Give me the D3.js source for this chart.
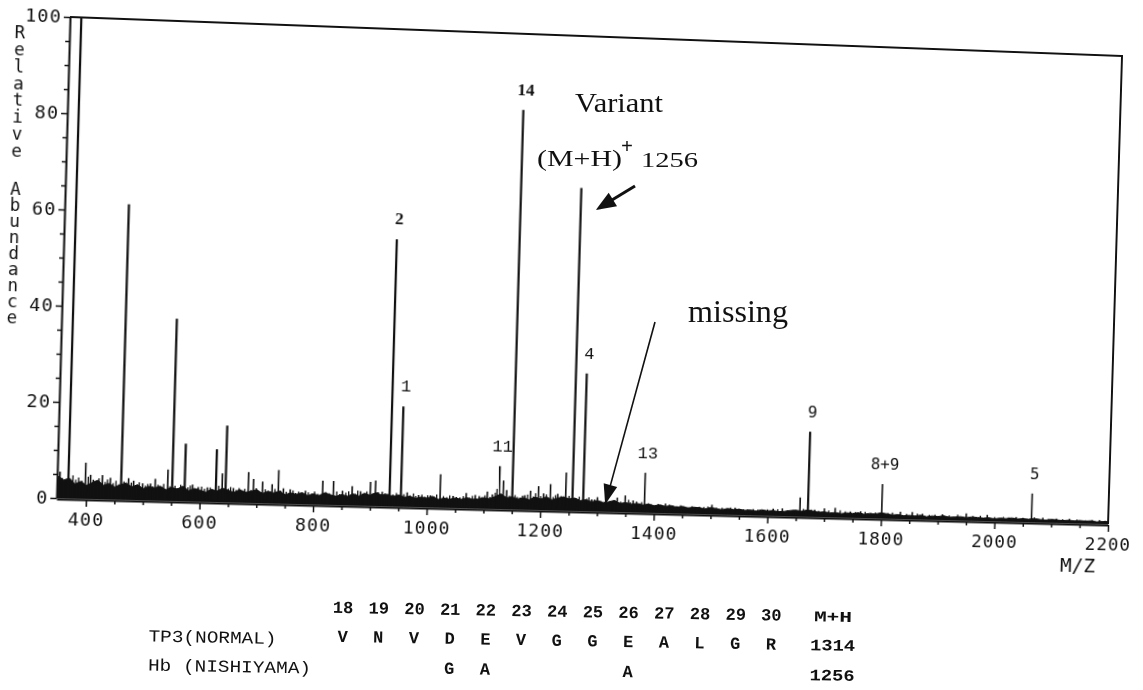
<!DOCTYPE html>
<html>
<head>
<meta charset="utf-8">
<script src="https://cdn.jsdelivr.net/npm/d3@7"></script>
<style>
  html, body { margin: 0; padding: 0; background: #fff; }
  #wrap { position: relative; width: 1143px; height: 690px; overflow: hidden; background: #fff; }
  #spec { position: absolute; left: 0; top: 0; transform-origin: 0 0; }
  #notes { position: absolute; left: 0; top: 0; }
</style>
</head>
<body>
<div id="wrap">
  <svg id="spec" width="1300" height="620"></svg>
  <svg id="notes" width="1143" height="690"></svg>
</div>
<script>
// ---- spectrum data: main stick peaks (m/z, relative abundance %) ----
const peakMz = [
  353, 368, 398, 407, 412, 428, 442, 461, 474, 483, 499, 513, 521, 543, 551, 573,
  587, 597, 613, 628, 639, 645, 659, 685, 694, 710, 727, 738, 747, 759, 786, 816,
  835, 851, 868, 883, 900, 909, 921, 934, 954, 965, 985, 1006, 1023, 1046, 1058, 1069,
  1085, 1092, 1106, 1115, 1127, 1134, 1140, 1150, 1164, 1172, 1182, 1196, 1205, 1217, 1230, 1244,
  1256, 1275, 1290, 1300, 1335, 1349, 1363, 1383, 1400, 1420, 1440, 1460, 1480, 1502, 1520, 1543,
  1565, 1592, 1610, 1626, 1645, 1657, 1671, 1683, 1700, 1719, 1746, 1764, 1790, 1801, 1834, 1855,
  1873, 1908, 1950, 1987, 2038, 2065, 2085, 2109, 2132, 2185
];
const peakIntensity = [
  5.5, 100, 7.5, 5, 4, 5, 4.5, 61.5, 4.5, 4, 3.5, 3.5, 4.5, 6.5, 38, 12,
  3.5, 3, 3, 11, 6, 16, 3, 6.4, 5, 4.5, 4, 7, 3.2, 3, 2.8, 5,
  5, 3, 4, 3, 5, 5.3, 3, 56, 21, 3, 2.5, 2.5, 7, 2.5, 2.2, 3.2,
  2.8, 2.6, 3.6, 3, 9, 6, 4, 84, 2.5, 3, 4, 5, 3.5, 5.5, 3.5, 8,
  68, 29, 2.5, 3, 3, 3.5, 2.5, 8.4, 1.5, 2, 1.5, 1.3, 1.5, 2, 1.4, 1.5,
  1.2, 1.2, 1.5, 1.6, 1.3, 4, 18, 1.5, 1.8, 2, 1.3, 1.4, 1.2, 7.3, 1.5, 1.5,
  1.2, 1.2, 1.5, 1.3, 1, 6.1, 1, 0.9, 0.9, 0.8
];

// low-level "grass" sticks riding on the baseline
const grassMz = [
  357, 362, 376, 381, 386, 392, 403, 417, 422, 433, 437, 447, 452, 457, 466, 470,
  479, 488, 493, 504, 508, 517, 526, 531, 536, 547, 556, 561, 566, 579, 583, 592,
  603, 608, 618, 622, 633, 650, 654, 664, 669, 674, 679, 690, 699, 704, 715, 720,
  732, 742, 752, 764, 769, 774, 780, 791, 797, 802, 808, 822, 828, 841, 846, 857,
  862, 874, 878, 888, 894, 904, 914, 926, 940, 946, 959, 970, 976, 980, 991, 996,
  1001, 1012, 1017, 1029, 1035, 1040, 1052, 1064, 1075, 1080, 1097, 1102, 1111, 1120, 1123, 1145,
  1155, 1159, 1168, 1177, 1187, 1191, 1200, 1210, 1222, 1226, 1236, 1240, 1250, 1262, 1268, 1281,
  1285, 1295, 1306, 1326, 1330, 1341, 1355, 1358, 1369, 1374, 1378, 1390, 1395, 1407, 1413, 1427,
  1433, 1447, 1453, 1467, 1473, 1488, 1495, 1510, 1528, 1535, 1550, 1558, 1575, 1583, 1600, 1618,
  1635, 1663, 1677, 1690, 1708, 1728, 1737, 1755, 1772, 1782, 1812, 1820, 1845, 1864, 1885, 1895,
  1920, 1935, 1962, 1975, 2000, 2015, 2025, 2050, 2070, 2095, 2120, 2145, 2160, 2172, 2195
];
const grassIntensity = [
  4.2, 3.6, 4.8, 3.9, 4.4, 3.7, 4.6, 3.8, 4.3, 3.6, 4.1, 3.4, 3.9, 3.2, 3.8, 3.3,
  3.6, 3.1, 3.7, 3.0, 3.4, 2.9, 3.3, 2.8, 3.5, 3.0, 3.2, 2.7, 3.4, 2.9, 3.3, 2.6,
  3.1, 2.7, 3.0, 2.6, 3.4, 2.8, 3.2, 2.6, 3.0, 2.5, 2.9, 2.7, 3.1, 2.5, 2.9, 2.6,
  3.0, 2.7, 2.5, 2.8, 2.3, 2.6, 2.2, 2.5, 2.3, 2.7, 2.2, 2.6, 2.4, 2.8, 2.3, 2.6,
  2.9, 2.4, 3.1, 2.5, 3.0, 2.6, 2.9, 2.7, 2.5, 2.8, 2.6, 2.4, 2.8, 2.3, 2.6, 2.2,
  2.5, 2.3, 2.7, 2.4, 2.2, 2.6, 2.3, 2.5, 2.2, 2.6, 2.4, 2.8, 2.5, 3.4, 4.2, 2.8,
  3.0, 2.6, 2.9, 3.2, 2.8, 3.5, 2.9, 3.3, 2.8, 3.2, 3.0, 2.7, 3.1, 2.7, 3.0, 2.6,
  2.9, 2.5, 2.2, 2.0, 2.4, 2.2, 2.6, 2.1, 2.3, 1.9, 2.2, 2.0, 1.8, 1.9, 1.7, 1.8,
  1.6, 1.7, 1.5, 1.6, 1.4, 1.5, 1.6, 1.4, 1.3, 1.5, 1.3, 1.2, 1.3, 1.2, 1.3, 1.4,
  1.2, 1.6, 1.5, 1.3, 1.4, 1.5, 1.3, 1.2, 1.3, 1.1, 1.2, 1.3, 1.1, 1.2, 1.0, 1.1,
  1.0, 1.2, 1.0, 1.1, 0.9, 1.0, 0.9, 0.9, 1.0, 0.8, 0.8, 0.8, 0.7, 0.8, 0.7
];

// baseline noise level sampled every 10 m/z from 350 to 2200
const noiseStartMz = 350;
const noiseStepMz = 10;
const noiseFloor = [
  4.5, 3.8, 4.2, 3.0, 3.6, 2.8, 3.4, 3.9, 2.9, 3.3,
  2.6, 3.1, 3.5, 2.7, 3.2, 2.4, 2.9, 2.6, 3.0, 2.3,
  2.8, 2.5, 3.1, 2.2, 2.7, 2.4, 2.0, 2.6, 2.3, 2.9,
  2.5, 2.1, 2.7, 2.2, 2.4, 2.8, 2.0, 2.5, 2.2, 2.6,
  1.9, 2.3, 2.0, 2.4, 1.8, 2.2, 1.9, 2.5, 2.1, 1.8,
  2.2, 1.9, 2.4, 2.0, 2.6, 2.2, 2.8, 2.3, 2.5, 2.1,
  2.4, 2.0, 2.2, 1.8, 2.1, 1.9, 2.3, 1.7, 2.0, 1.8,
  2.1, 1.8, 2.2, 1.9, 2.0, 2.3, 2.1, 2.6, 3.2, 2.4,
  2.6, 2.2, 2.5, 2.1, 2.7, 2.3, 2.8, 2.2, 2.6, 2.9,
  2.5, 2.7, 2.2, 2.4, 2.0, 2.3, 1.9, 2.1, 2.4, 1.8,
  2.0, 1.7, 1.9, 1.6, 1.8, 1.5, 1.7, 1.4, 1.6, 1.3,
  1.5, 1.2, 1.4, 1.3, 1.1, 1.4, 1.2, 1.0, 1.3, 1.1,
  1.2, 1.0, 1.1, 0.9, 1.2, 1.0, 1.1, 0.9, 1.0, 1.2,
  1.3, 1.1, 1.4, 1.2, 1.0, 1.1, 0.9, 1.0, 0.8, 1.0,
  0.9, 1.1, 0.8, 1.0, 0.9, 1.2, 1.0, 0.8, 0.9, 0.7,
  0.8, 0.7, 0.9, 0.6, 0.8, 0.7, 0.9, 0.6, 0.7, 0.8,
  0.6, 0.8, 0.7, 0.6, 0.7, 0.5, 0.7, 0.6, 0.8, 0.6,
  0.7, 0.6, 0.8, 0.6, 0.5, 0.7, 0.6, 0.5, 0.6, 0.5,
  0.6, 0.5, 0.6, 0.4, 0.5, 0.5
];

// axis ticks
const xDomain = [348, 2200];
const xTicks = [400, 600, 800, 1000, 1200, 1400, 1600, 1800, 2000, 2200];
const xMinorTicks = [450, 500, 550, 650, 700, 750, 850, 900, 950, 1050, 1100, 1150, 1250, 1300, 1350,
  1450, 1500, 1550, 1650, 1700, 1750, 1850, 1900, 1950, 2050, 2100, 2150];
const yTicks = [0, 20, 40, 60, 80, 100];
const yMinorTicks = [5, 10, 15, 25, 30, 35, 45, 50, 55, 65, 70, 75, 85, 90, 95];
const yTitleWords = ["Relative", "Abundance"];
const xTitle = "M/Z";

// fragment numbers printed over peaks
const labelText = ["2", "1", "11", "14", "4", "13", "9", "8+9", "5"];
const labelMz = [934, 954, 1127, 1150, 1275, 1383, 1671, 1801, 2065];

// sequence table
const residueNo = [18, 19, 20, 21, 22, 23, 24, 25, 26, 27, 28, 29, 30];
const normalSeq = ["V", "N", "V", "D", "E", "V", "G", "G", "E", "A", "L", "G", "R"];
const variantSeq = ["", "", "", "G", "A", "", "", "", "A", "", "", "", ""];
const rowNames = ["TP3(NORMAL)", "Hb (NISHIYAMA)"];
const massHeader = "M+H";
const massNormal = 1314;
const massVariant = 1256;

// ---- layout of the plotter sheet ----
const ml = 75, mt = 20, W = 1050, H = 480;
// plot frame corners on the page: top-left, top-right, bottom-right, bottom-left
const frameCorners = [[70, 17], [1122, 56], [1108, 524], [56.5, 498]];

// projective map from the flat drawing onto the tilted sheet
function quadMatrix(P) {
  const [p0, p1, p2, p3] = P;
  const sx = p0[0] - p1[0] + p2[0] - p3[0], sy = p0[1] - p1[1] + p2[1] - p3[1];
  const dx1 = p1[0] - p2[0], dx2 = p3[0] - p2[0], dy1 = p1[1] - p2[1], dy2 = p3[1] - p2[1];
  const den = dx1 * dy2 - dx2 * dy1;
  const g = (sx * dy2 - dx2 * sy) / den, h = (dx1 * sy - sx * dy1) / den;
  const a = p1[0] - p0[0] + g * p1[0], b = p3[0] - p0[0] + h * p3[0], c = p0[0];
  const d = p1[1] - p0[1] + g * p1[1], e = p3[1] - p0[1] + h * p3[1], f = p0[1];
  return [
    [a / W, b / H, c - a * ml / W - b * mt / H],
    [d / W, e / H, f - d * ml / W - e * mt / H],
    [g / W, h / H, 1 - g * ml / W - h * mt / H]
  ];
}
const M = quadMatrix(frameCorners);
function project(px, py) {
  const w = M[2][0] * px + M[2][1] * py + M[2][2];
  return [(M[0][0] * px + M[0][1] * py + M[0][2]) / w, (M[1][0] * px + M[1][1] * py + M[1][2]) / w];
}
d3.select("#spec").style("transform",
  `matrix3d(${M[0][0]},${M[1][0]},0,${M[2][0]},${M[0][1]},${M[1][1]},0,${M[2][1]},0,0,1,0,${M[0][2]},${M[1][2]},0,${M[2][2]})`);

// the m/z axis is evenly divided along the printed baseline; find the flat x for each m/z
function flatXFor(m) {
  const t = (m - xDomain[0]) / (xDomain[1] - xDomain[0]);
  const X = frameCorners[3][0] + (frameCorners[2][0] - frameCorners[3][0]) * t;
  const py = mt + H;
  const k0 = M[0][1] * py + M[0][2], k2 = M[2][1] * py + M[2][2];
  return (X * k2 - k0) / (M[0][0] - X * M[2][0]);
}
const xBreaks = d3.range(xDomain[0], xDomain[1], 20).concat([xDomain[1]]);

const ink = "#111";
const x = d3.scaleLinear().domain(xBreaks).range(xBreaks.map(flatXFor));
const y = d3.scaleLinear().domain([0, 100]).range([mt + H, mt]);

const svg = d3.select("#spec");

// baseline noise band
const noise = noiseFloor.map((v, i) => ({ mz: noiseStartMz + i * noiseStepMz, v }));
svg.append("path")
  .datum(noise)
  .attr("d", d3.area().x(d => x(d.mz)).y0(y(0)).y1(d => y(d.v)))
  .attr("fill", ink).attr("stroke", ink).attr("stroke-width", 1).attr("stroke-linejoin", "miter");

// grass sticks
const grass = grassMz.map((mz, i) => ({ mz, v: grassIntensity[i] }));
svg.append("g").selectAll("line").data(grass).join("line")
  .attr("x1", d => x(d.mz)).attr("x2", d => x(d.mz))
  .attr("y1", y(0)).attr("y2", d => y(d.v))
  .attr("stroke", ink).attr("stroke-width", 1.3);

// stick peaks
const peaks = peakMz.map((mz, i) => ({ mz, v: peakIntensity[i] }));
svg.append("g").selectAll("line").data(peaks).join("line")
  .attr("x1", d => x(d.mz)).attr("x2", d => x(d.mz))
  .attr("y1", y(0)).attr("y2", d => y(d.v))
  .attr("stroke", ink)
  .attr("stroke-width", d => d.v > 10 ? 2.2 : 1.6);

// frame: top and right edges
svg.append("path")
  .attr("d", `M${x(xDomain[0])},${y(100)}H${x(xDomain[1])}V${y(0)}`)
  .attr("fill", "none").attr("stroke", ink).attr("stroke-width", 2);

const tickFont = "'DejaVu Sans Mono', monospace";

// y axis
svg.append("g").attr("transform", `translate(${ml},0)`)
  .call(d3.axisLeft(y).tickValues(yTicks).tickSize(6).tickPadding(2).tickSizeOuter(0).tickFormat(d3.format("d")));
svg.append("g").attr("transform", `translate(${ml},0)`)
  .call(d3.axisLeft(y).tickValues(yMinorTicks).tickSize(4).tickSizeOuter(0).tickFormat(""))
  .call(g => g.select(".domain").remove());

// x axis
svg.append("g").attr("transform", `translate(0,${mt + H + 1})`)
  .call(d3.axisBottom(x).tickValues(xTicks).tickSize(7).tickPadding(6).tickSizeOuter(0).tickFormat(d3.format("d")));
svg.append("g").attr("transform", `translate(0,${mt + H + 1})`)
  .call(d3.axisBottom(x).tickValues(xMinorTicks).tickSize(4).tickSizeOuter(0).tickFormat(""))
  .call(g => g.select(".domain").remove());

svg.selectAll(".domain").attr("stroke", ink).attr("stroke-width", 2);
svg.selectAll(".tick line").attr("stroke", ink).attr("stroke-width", 1.5);
svg.selectAll(".tick text")
  .attr("fill", ink)
  .style("font-family", tickFont)
  .style("font-size", "18px")
  .style("letter-spacing", "1px");

// x title
svg.append("text")
  .attr("x", ml + W - 30).attr("y", mt + H + 50)
  .attr("text-anchor", "middle")
  .attr("fill", ink)
  .style("font-family", tickFont).style("font-size", "20px")
  .text(xTitle);

// y title: letters stacked upright
const titleG = svg.append("g").attr("fill", ink)
  .style("font-family", tickFont).style("font-size", "17px");
[...yTitleWords[0]].forEach((ch, i) => {
  titleG.append("text").attr("x", ml - 48).attr("y", mt + 17 + i * 16.9)
    .attr("text-anchor", "middle").attr("dominant-baseline", "central").text(ch);
});
[...yTitleWords[1]].forEach((ch, i) => {
  titleG.append("text").attr("x", ml - 48).attr("y", mt + 173 + i * 16)
    .attr("text-anchor", "middle").attr("dominant-baseline", "central").text(ch);
});

// fragment numbers above peaks
function labelStyle(t) {
  if (t === "14" || t === "2") return { fam: "'Liberation Serif', serif", size: 17, weight: "bold" };
  if (t === "9" || t === "8+9" || t === "5") return { fam: "'DejaVu Sans Mono', monospace", size: 16, weight: "normal" };
  return { fam: "'Liberation Mono', monospace", size: 17, weight: "normal" };
}
labelText.forEach((t, i) => {
  const mz = labelMz[i];
  const v = peakIntensity[peakMz.indexOf(mz)];
  const s = labelStyle(t);
  svg.append("text")
    .attr("x", x(mz) + 2).attr("y", y(v) - 15)
    .attr("text-anchor", "middle")
    .attr("fill", ink)
    .style("font-family", s.fam).style("font-size", s.size + "px").style("font-weight", s.weight)
    .text(t);
});

// ---- annotations ----
const notes = d3.select("#notes");
const serif = "'Liberation Serif', 'Times New Roman', serif";

function arrow(g, tail, tip, len, half, width) {
  const dx = tip[0] - tail[0], dy = tip[1] - tail[1];
  const L = Math.hypot(dx, dy), ux = dx / L, uy = dy / L;
  const bx = tip[0] - ux * len, by = tip[1] - uy * len;
  g.append("line").attr("x1", tail[0]).attr("y1", tail[1]).attr("x2", bx + ux * 2).attr("y2", by + uy * 2)
    .attr("stroke", ink).attr("stroke-width", width);
  g.append("path")
    .attr("d", `M${tip[0]},${tip[1]}L${bx - uy * half},${by + ux * half}L${bx + uy * half},${by - ux * half}Z`)
    .attr("fill", ink);
}

notes.append("text").attr("x", 575).attr("y", 112)
  .attr("textLength", 88).attr("lengthAdjust", "spacingAndGlyphs")
  .attr("fill", ink).style("font-family", serif).style("font-size", "27px").text("Variant");
notes.append("text").attr("x", 537).attr("y", 166)
  .attr("textLength", 85).attr("lengthAdjust", "spacingAndGlyphs")
  .attr("fill", ink).style("font-family", serif).style("font-size", "24px").text("(M+H)");
notes.append("text").attr("x", 621).attr("y", 153)
  .attr("fill", ink).style("font-family", serif).style("font-size", "21px").style("font-weight", "bold").text("+");
notes.append("text").attr("x", 641).attr("y", 167)
  .attr("textLength", 57).attr("lengthAdjust", "spacingAndGlyphs")
  .attr("fill", ink).style("font-family", serif).style("font-size", "21px").text(String(massVariant));
notes.append("text").attr("x", 688).attr("y", 322)
  .attr("textLength", 100).attr("lengthAdjust", "spacingAndGlyphs")
  .attr("fill", ink).style("font-family", serif).style("font-size", "32px").text("missing");

const arrows = notes.append("g");
arrow(arrows, [635, 186], project(x(massVariant) + 15, y(63.5)), 20, 8, 3);
arrow(arrows, [655, 322], project(x(massNormal), y(1.5)), 20, 7, 1.6);

// ---- sequence table ----
const tbl = notes.append("g").attr("transform", "rotate(1.0,343,613)").attr("fill", ink);
const mono = "'Liberation Mono', 'Courier New', monospace";
const colX = i => 343 + i * 35.7;
residueNo.forEach((n, i) => {
  tbl.append("text").attr("x", colX(i)).attr("y", 613).attr("text-anchor", "middle")
    .style("font-family", mono).style("font-size", "17px").style("font-weight", "bold").text(n);
  tbl.append("text").attr("x", colX(i)).attr("y", 642).attr("text-anchor", "middle")
    .style("font-family", mono).style("font-size", "17px").style("font-weight", "bold").text(normalSeq[i]);
  if (variantSeq[i]) {
    tbl.append("text").attr("x", colX(i)).attr("y", 672).attr("text-anchor", "middle")
      .style("font-family", mono).style("font-size", "17px").style("font-weight", "bold").text(variantSeq[i]);
  }
});
tbl.append("text").attr("x", 149).attr("y", 645)
  .attr("textLength", 128).attr("lengthAdjust", "spacingAndGlyphs")
  .style("font-family", mono).style("font-size", "17px").text(rowNames[0]);
tbl.append("text").attr("x", 149).attr("y", 674)
  .attr("textLength", 163).attr("lengthAdjust", "spacingAndGlyphs")
  .style("font-family", mono).style("font-size", "17px").text(rowNames[1]);
tbl.append("text").attr("x", 833).attr("y", 613).attr("text-anchor", "middle")
  .attr("textLength", 38).attr("lengthAdjust", "spacingAndGlyphs")
  .style("font-family", mono).style("font-size", "15px").style("font-weight", "bold").text(massHeader);
tbl.append("text").attr("x", 833).attr("y", 642).attr("text-anchor", "middle")
  .attr("textLength", 45).attr("lengthAdjust", "spacingAndGlyphs")
  .style("font-family", mono).style("font-size", "16px").style("font-weight", "bold").text(massNormal);
tbl.append("text").attr("x", 833).attr("y", 672).attr("text-anchor", "middle")
  .attr("textLength", 45).attr("lengthAdjust", "spacingAndGlyphs")
  .style("font-family", mono).style("font-size", "16px").style("font-weight", "bold").text(massVariant);
</script>
</body>
</html>
